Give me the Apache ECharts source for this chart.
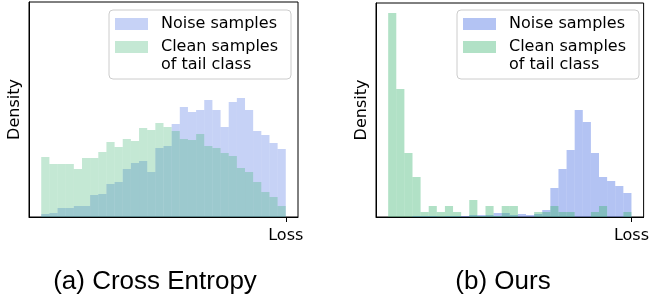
<!DOCTYPE html>
<html>
<head>
<meta charset="utf-8">
<script src="https://cdn.jsdelivr.net/npm/echarts@6/dist/echarts.min.js"></script>
<style>
  html, body { margin: 0; padding: 0; background: #fff; }
  #chart { width: 652px; height: 296px; }
</style>
</head>
<body>
<div id="chart"></div>
<script>
// 30 loss bins per panel, heights (arbitrary density units)
var ceNoise = [3, 4, 9, 9, 11, 11, 22, 23, 33, 35, 48, 54, 56, 45, 69,
               71, 93, 110, 105, 107, 117, 107, 90, 115, 119, 107, 86, 82, 74, 68];
var ceClean = [60, 53, 53, 53, 48, 59, 59, 65, 75, 70, 78, 76, 89, 87, 94,
               90, 86, 78, 77, 83, 71, 69, 64, 61, 49, 45, 35, 25, 20, 11];
var oursNoise = [0, 0, 0, 1, 1, 1, 0.5, 1, 1, 1, 2, 2, 2, 4, 4,
                 2, 3, 2, 3, 7, 29, 48, 67, 107, 95, 64, 40, 36, 31, 24];
var oursClean = [204, 128, 64, 40, 5, 11, 5, 11, 5, 0, 17, 1, 11, 1, 11,
                 11, 0, 0, 5, 5, 11, 5, 5, 0, 0, 5, 11, 0, 0, 5];
var xTicks = [30];
var xTickLabels = ['Loss'];
var captions = ['(a) Cross Entropy', '(b) Ours'];
var legendNames = ['Noise samples', 'Clean samples'];

function renderBin(params, api) {
    var i = api.value(0);
    var p0 = api.coord([i, api.value(1)]);
    var p1 = api.coord([i + 1, 0]);
    return {
        type: 'rect',
        shape: { x: p0[0], y: p0[1], width: p1[0] - p0[0], height: p1[1] - p0[1] },
        style: api.style()
    };
}

function toBins(arr) {
    return arr.map(function (v, i) { return [i, v]; });
}

function makeX(idx) {
    return {
        gridIndex: idx, type: 'value', min: -1.5, max: 31.5,
        axisLine: { show: true, onZero: false, lineStyle: { color: '#000', width: 1 } },
        axisTick: { show: true, customValues: xTicks, length: 5, lineStyle: { color: '#000' } },
        axisLabel: {
            show: true, customValues: xTicks, margin: 11,
            fontFamily: 'DejaVu Sans', fontSize: 16, color: '#000',
            formatter: function (v) { return xTickLabels[xTicks.indexOf(v)] || ''; }
        },
        splitLine: { show: false }
    };
}

function makeY(idx, max) {
    return {
        gridIndex: idx, type: 'value', min: 0, max: max,
        name: 'Density', nameLocation: 'middle', nameRotate: 90, nameGap: 6,
        nameTextStyle: { fontFamily: 'DejaVu Sans', fontSize: 16, color: '#000' },
        axisLine: { show: true, onZero: false, lineStyle: { color: '#000', width: 1 } },
        axisTick: { show: false }, axisLabel: { show: false }, splitLine: { show: false }
    };
}

function makeLegend(left, alpha) {
    return {
        orient: 'vertical', left: left, top: 10,
        padding: [5, 13, 23, 6], itemGap: 5,
        itemWidth: 33, itemHeight: 12, icon: 'rect',
        backgroundColor: 'rgba(255,255,255,0.8)',
        borderColor: '#cccccc', borderWidth: 1, borderRadius: 4,
        selectedMode: false,
        textStyle: { fontFamily: 'DejaVu Sans', fontSize: 16, color: '#000', lineHeight: 18, padding: [0, 0, 0, 8] },
        data: [
            { name: legendNames[0], itemStyle: { color: 'rgba(65,105,225,' + alpha + ')' } },
            { name: legendNames[1], itemStyle: { color: 'rgba(60,179,113,' + alpha + ')' } }
        ]
    };
}

function histSeries(name, idx, data, color) {
    return {
        name: name, type: 'custom', xAxisIndex: idx, yAxisIndex: idx,
        renderItem: renderBin, data: toBins(data),
        encode: { x: 0, y: 1 },
        itemStyle: { color: color },
        silent: true
    };
}

var option = {
    animation: false,
    grid: [
        { left: 29, top: 2, width: 269, height: 215, show: true, borderColor: '#000', borderWidth: 1, backgroundColor: 'transparent' },
        { left: 376, top: 3, width: 271, height: 214, show: true, borderColor: '#000', borderWidth: 1, backgroundColor: 'transparent' }
    ],
    xAxis: [makeX(0), makeX(1)],
    yAxis: [makeY(0, 215), makeY(1, 214)],
    legend: [makeLegend(109, 0.3), makeLegend(457, 0.4)],
    series: [
        histSeries(legendNames[0], 0, ceNoise, 'rgba(65,105,225,0.3)'),
        histSeries(legendNames[1], 0, ceClean, 'rgba(60,179,113,0.3)'),
        histSeries(legendNames[0], 1, oursNoise, 'rgba(65,105,225,0.4)'),
        histSeries(legendNames[1], 1, oursClean, 'rgba(60,179,113,0.4)')
    ],
    graphic: [
        { type: 'text', left: 161, top: 57, z: 100,
          style: { text: 'of tail class', font: '16px "DejaVu Sans"', fill: '#000' } },
        { type: 'text', left: 509, top: 57, z: 100,
          style: { text: 'of tail class', font: '16px "DejaVu Sans"', fill: '#000' } },
        { type: 'text', x: 155, y: 282,
          style: { text: captions[0], font: '26px "Liberation Sans"', fill: '#000',
                   align: 'center', verticalAlign: 'middle', textAlign: 'center', textVerticalAlign: 'middle' } },
        { type: 'text', x: 503, y: 282,
          style: { text: captions[1], font: '26px "Liberation Sans"', fill: '#000',
                   align: 'center', verticalAlign: 'middle', textAlign: 'center', textVerticalAlign: 'middle' } }
    ]
};

var myChart = echarts.init(document.getElementById('chart'));
myChart.setOption(option);
</script>
</body>
</html>
